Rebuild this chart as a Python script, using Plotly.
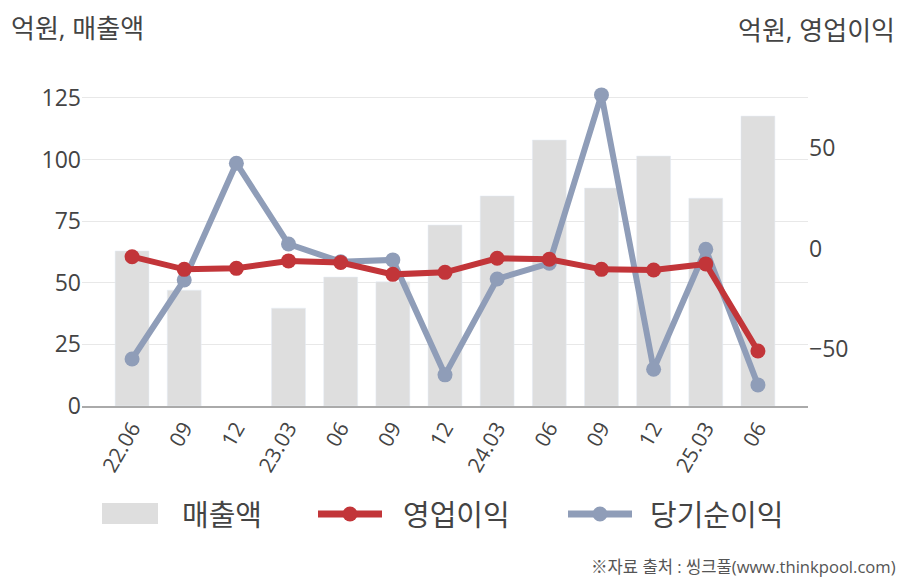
import plotly.graph_objects as go

# 분기 라벨
quarters = ['22.06', '09', '12', '23.03', '06', '09', '12', '24.03', '06', '09', '12', '25.03', '06']

# 억원
sales = [62.9, 47.0, None, 39.7, 52.3, 50.4, 73.4, 85.2, 107.9, 88.4, 101.4, 84.3, 117.6]
op_profit = [-4.1, -10.4, -9.9, -6.2, -7.0, -12.9, -11.9, -4.9, -5.4, -10.4, -10.7, -7.7, -51.0]
net_income = [-55.0, -15.7, 42.4, 2.2, -6.6, -5.7, -62.9, -15.2, -7.4, 76.4, -60.1, -0.4, -67.9]

x = list(range(len(quarters)))
font_main = 'Open Sans, Noto Sans CJK KR, sans-serif'
c_bar, c_op, c_net = '#dedede', '#c23539', '#8f9db8'

# 플롯 영역 (픽셀) -> paper 좌표 변환
L, R, T, B = 82, 808, 70, 406
def px(v):
    return (v - L) / (R - L)
def py(v):
    return (B - v) / (B - T)

fig = go.Figure()

fig.add_trace(go.Bar(
    x=x, y=sales, name='매출액',
    marker=dict(color=c_bar), width=0.65, yaxis='y'
))
fig.add_trace(go.Scatter(
    x=x, y=net_income, name='당기순이익', mode='lines+markers',
    line=dict(color=c_net, width=6), marker=dict(color=c_net, size=15),
    yaxis='y2'
))
fig.add_trace(go.Scatter(
    x=x, y=op_profit, name='영업이익', mode='lines+markers',
    line=dict(color=c_op, width=6), marker=dict(color=c_op, size=15),
    yaxis='y2'
))

fig.update_layout(
    width=908, height=580,
    margin=dict(l=L, r=908 - R, t=T, b=580 - B),
    paper_bgcolor='white', plot_bgcolor='white',
    font=dict(family=font_main, color='#444444', size=20),
    showlegend=False,
    xaxis=dict(
        tickmode='array', tickvals=x, ticktext=quarters,
        range=[-0.96, 12.96], tickangle=-60,
        showgrid=False, showline=True, linecolor='#aaaaaa', linewidth=1.5,
        ticks='', tickfont=dict(size=21, color='#444444')
    ),
    yaxis=dict(
        range=[0, 136.3], tickvals=[0, 25, 50, 75, 100, 125],
        showgrid=True, gridcolor='#e8e8e8', gridwidth=1,
        zeroline=False, showline=False, ticks='',
        tickfont=dict(size=23, color='#444444')
    ),
    yaxis2=dict(
        range=[-78.4, 88.8], tickvals=[-50, 0, 50],
        overlaying='y', side='right', showgrid=False, zeroline=False,
        showline=False, ticks='',
        tickfont=dict(size=23, color='#444444')
    ),
)

# 범례 (직접 그림)
legend_font = dict(size=29, color='#444444')
ly = 514
fig.add_shape(type='rect', xref='paper', yref='paper',
              x0=px(102), x1=px(158), y0=py(524), y1=py(503),
              fillcolor=c_bar, line=dict(width=0))
fig.add_annotation(text='매출액', xref='paper', yref='paper', x=px(180), y=py(ly),
                   xanchor='left', yanchor='middle', showarrow=False, font=legend_font)
for x0, x1, col, label, tx in [(318, 382, c_op, '영업이익', 401), (568, 632, c_net, '당기순이익', 648)]:
    fig.add_shape(type='line', xref='paper', yref='paper',
                  x0=px(x0), x1=px(x1), y0=py(ly), y1=py(ly),
                  line=dict(color=col, width=7))
    cx = (x0 + x1) / 2
    fig.add_shape(type='circle', xref='paper', yref='paper',
                  x0=px(cx - 7.5), x1=px(cx + 7.5), y0=py(ly + 7.5), y1=py(ly - 7.5),
                  fillcolor=col, line=dict(width=0))
    fig.add_annotation(text=label, xref='paper', yref='paper', x=px(tx), y=py(ly),
                       xanchor='left', yanchor='middle', showarrow=False, font=legend_font)

fig.add_annotation(text='억원, 매출액', xref='paper', yref='paper',
                   x=px(9), y=py(28), xanchor='left', yanchor='middle',
                   showarrow=False, font=dict(size=26, color='#444444'))
fig.add_annotation(text='억원, 영업이익', xref='paper', yref='paper',
                   x=px(897), y=py(30), xanchor='right', yanchor='middle',
                   showarrow=False, font=dict(size=26, color='#444444'))
fig.add_annotation(text='※자료 출처 : 씽크풀(www.thinkpool.com)', xref='paper', yref='paper',
                   x=px(898), y=py(566), xanchor='right', yanchor='middle',
                   showarrow=False, font=dict(size=16.6, color='#555555'))

fig.write_html('out.html', config={'displayModeBar': False},
               post_script="document.body.style.margin='0';")
